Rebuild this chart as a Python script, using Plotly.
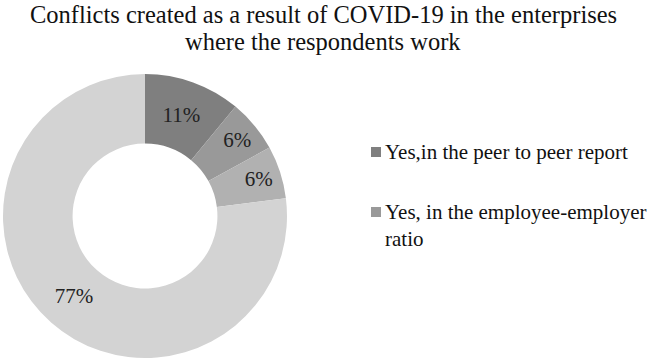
import plotly.graph_objects as go

# Survey answers and their shares (%)
labels = [
    "Yes,in the peer to peer report",
    "Yes, in the employee-employer ratio",
    "Yes, in other relations",
    "No",
]
values = [11, 6, 6, 77]
colors = ["#7f7f7f", "#999999", "#b1b1b1", "#d3d3d3"]

# Only the first two categories appear in the legend block
legend_labels = ["Yes,in the peer to peer report", "Yes, in the employee-employer<br>ratio"]
legend_colors = colors[:2]

title_lines = [
    "Conflicts created as a result of COVID-19 in the enterprises",
    "where the respondents work",
]

W, H = 653, 360
serif = "Liberation Serif, Times New Roman, serif"


def py(pix):
    """Convert a pixel row (from the top) to paper coordinates."""
    return 1 - pix / H


fig = go.Figure(
    go.Pie(
        labels=labels,
        values=values,
        hole=0.51,
        sort=False,
        direction="clockwise",
        rotation=0,
        marker=dict(colors=colors, line=dict(width=0)),
        texttemplate="%{value}%",
        textposition="inside",
        insidetextorientation="horizontal",
        textfont=dict(family=serif, size=21, color="#222222"),
        domain=dict(x=[3 / W, 287 / W], y=[py(358), py(74)]),
        showlegend=False,
        hoverinfo="label+percent",
    )
)

# Two-line title, set as separate lines for a tight line spacing
annotations = []
for line, cy in zip(title_lines, [15, 41]):
    annotations.append(dict(
        text=line, x=323 / W, y=py(cy), xref="paper", yref="paper",
        xanchor="center", yanchor="middle", showarrow=False,
        font=dict(family=serif, size=24.5, color="#111111"),
    ))

shapes = []
legend_square_y = [152, 212]
legend_text_y = [152, 225]
for lab, col, sy, ty in zip(legend_labels, legend_colors, legend_square_y, legend_text_y):
    shapes.append(dict(
        type="rect", xref="paper", yref="paper",
        x0=371 / W, x1=381 / W, y0=py(sy + 5), y1=py(sy - 5),
        fillcolor=col, line=dict(width=0),
    ))
    annotations.append(dict(
        text=lab, x=383 / W, y=py(ty), xref="paper", yref="paper",
        xanchor="left", yanchor="middle", align="left", showarrow=False,
        font=dict(family=serif, size=21, color="#111111"),
    ))

fig.update_layout(
    width=W, height=H,
    margin=dict(l=0, r=0, t=0, b=0),
    paper_bgcolor="white",
    plot_bgcolor="white",
    annotations=annotations,
    shapes=shapes,
)

fig.write_html("out.html")
